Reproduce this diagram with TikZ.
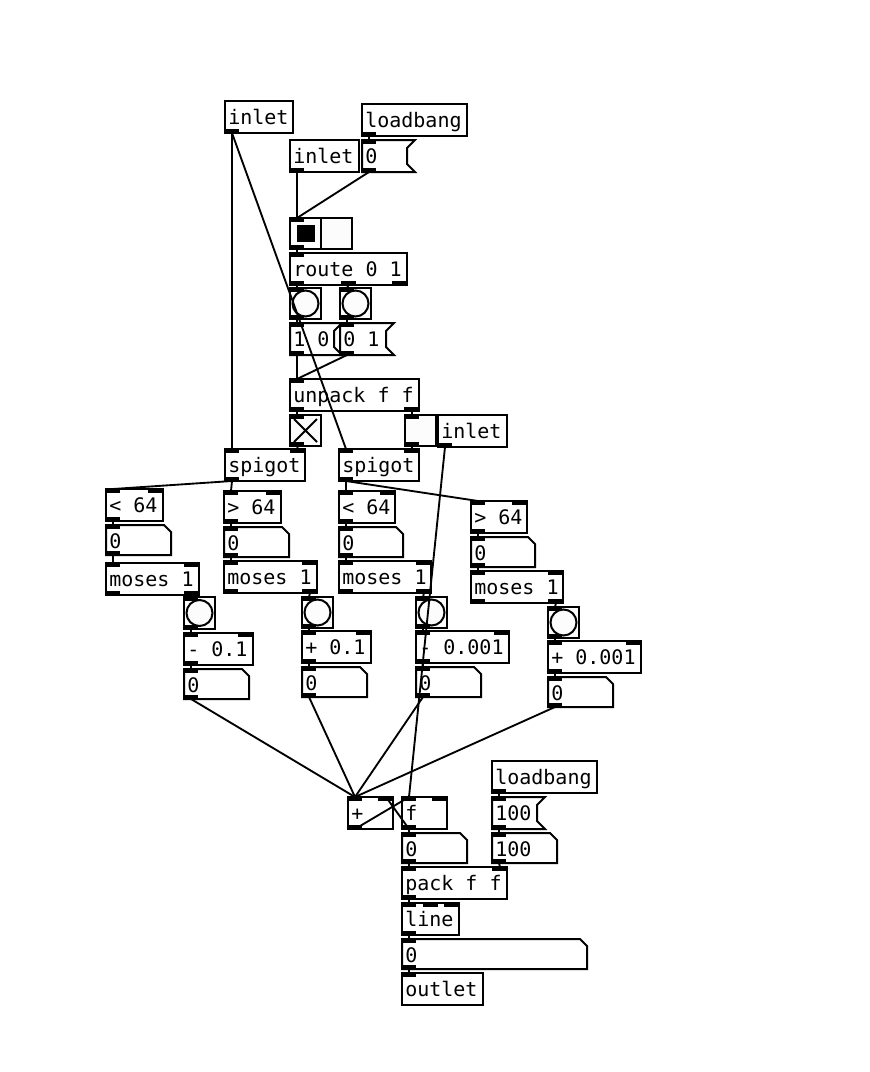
\documentclass[tikz,border=0pt]{standalone}
\usepackage{fontspec}
\newfontfamily\pdfnt{DejaVu Sans Mono}
\newcommand\pdtext{\pdfnt\fontsize{15}{18}\selectfont}
\definecolor{guifill}{RGB}{252,252,252}
\tikzset{
  box/.style={draw=black, line width=1.5pt},
  guibox/.style={draw=black, fill=guifill, line width=1.5pt},
  txt/.style={anchor=base west, inner sep=0pt, font=\pdtext},
  wire/.style={draw=black, line width=1.4pt},
}
% ports: name L T R B nin nout
\newcommand\pdports[7]{%
  \ifnum#6>0
    \pgfmathtruncatemacro\pdlast{#6-1}%
    \foreach \i in {0,...,\pdlast}{%
      \pgfmathsetmacro\px{#2+(#4-#2-14)*\i/max(#6-1,1)}%
      \fill (\px-1,#3-1) rectangle (\px+14,#3+4);
      \coordinate (#1-i\i) at (\px+7,#3);
    }%
  \fi
  \ifnum#7>0
    \pgfmathtruncatemacro\pdlast{#7-1}%
    \foreach \i in {0,...,\pdlast}{%
      \pgfmathsetmacro\px{#2+(#4-#2-14)*\i/max(#7-1,1)}%
      \fill (\px-1,#5-4) rectangle (\px+14,#5+1);
      \coordinate (#1-o\i) at (\px+7,#5);
    }%
  \fi
}
% object: name L T R B text nin nout
\newcommand\pdobj[8]{%
  \draw[box] (#2,#3) rectangle (#4,#5);
  \node[txt] (#1) at (#2+3,#3+23) {#6};
  \pdports{#1}{#2}{#3}{#4}{#5}{#7}{#8}%
}
% message: name L T R B text
\newcommand\pdmsg[6]{%
  \draw[box] (#2,#3) -- (#4,#3) -- (#4-8,#3+8) -- (#4-8,#5-8) -- (#4,#5) -- (#2,#5) -- cycle;
  \node[txt] (#1) at (#2+3,#3+23) {#6};
  \pdports{#1}{#2}{#3}{#4-8}{#5}{1}{1}%
}
% number box: name L T R B text
\newcommand\pdnum[6]{%
  \draw[box] (#2,#3) -- (#4-7,#3) -- (#4,#3+7) -- (#4,#5) -- (#2,#5) -- cycle;
  \node[txt] (#1) at (#2+3,#3+23) {#6};
  \pdports{#1}{#2}{#3}{#4}{#5}{1}{1}%
}
% bang: name L T R B
\newcommand\pdbng[5]{%
  \draw[guibox] (#2,#3) rectangle (#4,#5);
  \draw[line width=1.5pt] ({(#2+#4)/2},{(#3+#5)/2}) circle[radius=13];
  \node[coordinate] (#1) at ({(#2+#4)/2},{(#3+#5)/2}) {};
  \pdports{#1}{#2}{#3}{#4}{#5}{1}{1}%
}
% toggle: name L T R B on(1/0)
\newcommand\pdtgl[6]{%
  \draw[guibox] (#2,#3) rectangle (#4,#5);
  \ifnum#6=1
    \draw[line width=1.5pt] (#2+4,#3+4) -- (#4-4,#5-4) (#2+4,#5-4) -- (#4-4,#3+4);
  \fi
  \node[coordinate] (#1) at ({(#2+#4)/2},{(#3+#5)/2}) {};
  \pdports{#1}{#2}{#3}{#4}{#5}{1}{1}%
}
\begin{document}
\begin{tikzpicture}[x=0.75pt,y=-0.75pt]
\useasboundingbox[fill=white] (0,0) rectangle (870,1072);

% top section
\pdobj{inletA}{225}{101}{293}{133}{inlet}{0}{1}
\pdobj{lbA}{362}{104}{467}{136}{loadbang}{0}{1}
\pdobj{inletB}{290}{140}{359}{172}{inlet}{0}{1}
\pdmsg{msgZ}{362}{140}{415}{172}{0}
% hradio
\draw[guibox] (290,218) rectangle (352,249);
\draw[line width=1.5pt] (321,218) -- (321,249);
\fill (297,225) rectangle (315,242);
\node[coordinate] (hrad) at (321,233) {};
\pdports{hrad}{290}{218}{352}{249}{1}{1}
\pdobj{route}{290}{253}{407}{285}{route 0 1}{1}{3}
\pdbng{bngA}{290}{288}{321}{319}
\pdbng{bngB}{340}{288}{371}{319}
\pdmsg{msgA}{290}{323}{342}{355}{1 0}
\pdmsg{msgB}{340}{323}{394}{355}{0 1}
\pdobj{unpack}{290}{379}{419}{411}{unpack f f}{1}{2}
\pdtgl{tglA}{290}{415}{321}{446}{1}
\pdtgl{tglB}{405}{415}{436}{446}{0}
\pdobj{inletC}{438}{415}{507}{447}{inlet}{0}{1}
\pdobj{spigA}{225}{449}{305}{481}{spigot}{2}{1}
\pdobj{spigB}{339}{449}{419}{481}{spigot}{2}{1}

% column 1
\pdobj{cmpA}{106}{489}{163}{521}{< 64}{2}{1}
\pdnum{nA}{106}{525}{171}{555}{0}
\pdobj{mosA}{106}{563}{199}{595}{moses 1}{2}{2}
\pdbng{bA}{184}{597}{215}{629}
\pdobj{opA}{184}{633}{253}{665}{- 0.1}{2}{1}
\pdnum{rA}{184}{669}{249}{699}{0}
% column 2
\pdobj{cmpB}{224}{491}{281}{523}{> 64}{2}{1}
\pdnum{nB}{224}{527}{289}{557}{0}
\pdobj{mosB}{224}{561}{317}{593}{moses 1}{2}{2}
\pdbng{bB}{302}{597}{333}{628}
\pdobj{opB}{302}{631}{371}{663}{+ 0.1}{2}{1}
\pdnum{rB}{302}{667}{367}{697}{0}
% column 3
\pdobj{cmpC}{339}{491}{395}{523}{< 64}{2}{1}
\pdnum{nC}{339}{527}{403}{557}{0}
\pdobj{mosC}{339}{561}{431}{593}{moses 1}{2}{2}
\pdbng{bC}{416}{597}{447}{628}
\pdobj{opC}{416}{631}{509}{663}{- 0.001}{2}{1}
\pdnum{rC}{416}{667}{481}{697}{0}
% column 4
\pdobj{cmpD}{471}{501}{527}{533}{> 64}{2}{1}
\pdnum{nD}{471}{537}{535}{567}{0}
\pdobj{mosD}{471}{571}{563}{603}{moses 1}{2}{2}
\pdbng{bD}{548}{607}{579}{638}
\pdobj{opD}{548}{641}{641}{673}{+ 0.001}{2}{1}
\pdnum{rD}{548}{677}{613}{707}{0}

% bottom section
\pdobj{plus}{348}{797}{393}{829}{+}{2}{1}
\pdobj{fobj}{402}{797}{447}{829}{f}{2}{1}
\pdobj{lbB}{492}{761}{597}{793}{loadbang}{0}{1}
\pdmsg{msgC}{492}{797}{545}{829}{100}
\pdnum{nH}{492}{833}{557}{863}{100}
\pdnum{nZ}{402}{833}{467}{863}{0}
\pdobj{pack}{402}{867}{507}{899}{pack f f}{2}{1}
\pdobj{line}{402}{903}{459}{935}{line}{3}{1}
\pdnum{nW}{402}{939}{587}{969}{0}
\pdobj{outlet}{402}{973}{483}{1005}{outlet}{1}{0}

% connections
\draw[wire] (inletA-o0) -- (spigA-i0);
\draw[wire] (inletA-o0) -- (spigB-i0);
\draw[wire] (lbA-o0) -- (msgZ-i0);
\draw[wire] (inletB-o0) -- (hrad-i0);
\draw[wire] (msgZ-o0) -- (hrad-i0);
\draw[wire] (hrad-o0) -- (route-i0);
\draw[wire] (route-o0) -- (bngA-i0);
\draw[wire] (route-o1) -- (bngB-i0);
\draw[wire] (bngA-o0) -- (msgA-i0);
\draw[wire] (bngB-o0) -- (msgB-i0);
\draw[wire] (msgA-o0) -- (unpack-i0);
\draw[wire] (msgB-o0) -- (unpack-i0);
\draw[wire] (unpack-o0) -- (tglA-i0);
\draw[wire] (unpack-o1) -- (tglB-i0);
\draw[wire] (tglA-o0) -- (spigA-i1);
\draw[wire] (tglB-o0) -- (spigB-i1);
\draw[wire] (inletC-o0) -- (fobj-i0);
\draw[wire] (spigA-o0) -- (cmpA-i0);
\draw[wire] (spigA-o0) -- (cmpB-i0);
\draw[wire] (spigB-o0) -- (cmpC-i0);
\draw[wire] (spigB-o0) -- (cmpD-i0);
\foreach \c/\n/\m/\b/\o/\r in {cmpA/nA/mosA/bA/opA/rA, cmpB/nB/mosB/bB/opB/rB, cmpC/nC/mosC/bC/opC/rC, cmpD/nD/mosD/bD/opD/rD}{
  \draw[wire] (\c-o0) -- (\n-i0);
  \draw[wire] (\n-o0) -- (\m-i0);
  \draw[wire] (\m-o1) -- (\b-i0);
  \draw[wire] (\b-o0) -- (\o-i0);
  \draw[wire] (\o-o0) -- (\r-i0);
  \draw[wire] (\r-o0) -- (plus-i0);
}
\draw[wire] (plus-o0) -- (fobj-i0);
\draw[wire] (fobj-o0) -- (plus-i1);
\draw[wire] (fobj-o0) -- (nZ-i0);
\draw[wire] (nZ-o0) -- (pack-i0);
\draw[wire] (lbB-o0) -- (msgC-i0);
\draw[wire] (msgC-o0) -- (nH-i0);
\draw[wire] (nH-o0) -- (pack-i1);
\draw[wire] (pack-o0) -- (line-i0);
\draw[wire] (line-o0) -- (nW-i0);
\draw[wire] (nW-o0) -- (outlet-i0);
\end{tikzpicture}
\end{document}
